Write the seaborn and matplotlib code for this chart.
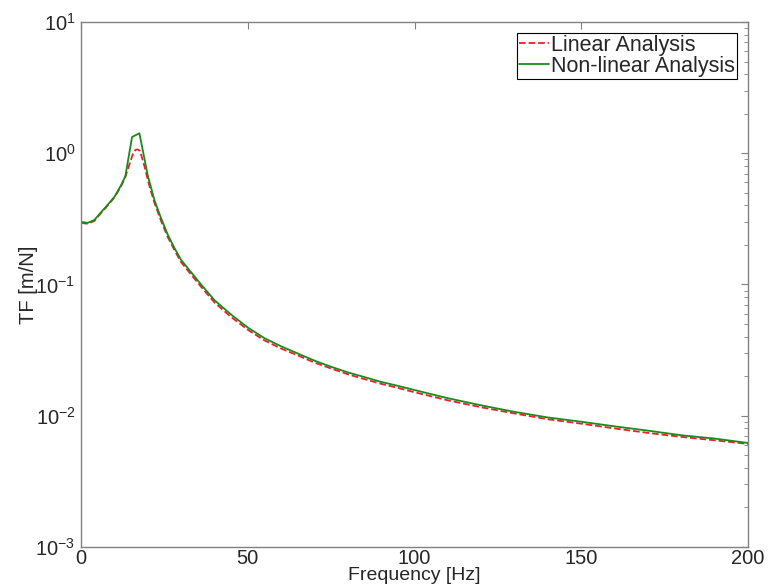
import numpy as np
import pandas as pd
import seaborn as sns
import matplotlib.pyplot as plt

# frequency [Hz] and transfer function values [m/N]
freq_lin = [0, 2, 4, 6, 8, 10, 12, 13.3, 14.5, 15.5, 16.3, 17.0, 17.7, 19.0, 20, 21, 22, 24, 26, 28, 30, 33, 36, 40,
            45, 50, 55, 60, 65, 70, 75, 80, 85, 90, 95, 100, 110, 120, 130, 140, 150, 160, 170, 180, 190, 200]
tf_lin = [0.295, 0.29, 0.305, 0.35, 0.40, 0.46, 0.56, 0.66, 0.82, 0.98, 1.06, 1.07, 1.04, 0.80, 0.63, 0.51, 0.42,
          0.305, 0.23, 0.183, 0.148, 0.119, 0.096, 0.073, 0.0565, 0.0452, 0.0375, 0.0325, 0.0288, 0.0254,
          0.0229, 0.0207, 0.0190, 0.0175, 0.0163, 0.0151, 0.0131, 0.0116, 0.0104, 0.0094, 0.0087, 0.0080,
          0.0074, 0.0069, 0.0065, 0.0061]

freq_nl = [0, 2, 4, 6, 8, 10, 12, 13.3, 15.3, 17.5, 20, 22, 24, 26, 28, 30, 33, 36, 40,
           45, 50, 55, 60, 65, 70, 75, 80, 85, 90, 95, 100, 110, 120, 130, 140, 150, 160, 170, 180, 190, 200]
tf_nl = [0.30, 0.295, 0.31, 0.355, 0.405, 0.465, 0.57, 0.67, 1.33, 1.42, 0.68, 0.44, 0.32, 0.24, 0.19,
         0.154, 0.124, 0.100, 0.076, 0.059, 0.047, 0.039, 0.0338, 0.0298, 0.0263, 0.0236, 0.0214, 0.0197,
         0.0181, 0.0169, 0.0157, 0.0136, 0.0120, 0.0107, 0.0097, 0.0090, 0.0083, 0.0077, 0.0071, 0.0067, 0.0062]

lin = pd.DataFrame({"f": freq_lin, "tf": tf_lin})
nl = pd.DataFrame({"f": freq_nl, "tf": tf_nl})

sns.set_style("white")
plt.rcParams['font.family'] = ['Liberation Sans', 'DejaVu Sans']
plt.rcParams['mathtext.default'] = 'regular'
plt.rcParams['axes.unicode_minus'] = False

fig = plt.figure(figsize=(7.68, 5.84), dpi=100)
ax = fig.add_axes([0.1055, 0.0634, 0.8685, 0.8989])

sns.lineplot(data=lin, x="f", y="tf", ax=ax, color="#e8202a", linestyle="--", linewidth=1.3,
             label="Linear Analysis", sort=False)
sns.lineplot(data=nl, x="f", y="tf", ax=ax, color="#1a8a1a", linestyle="-", linewidth=1.3,
             label="Non-linear Analysis", sort=False)

ax.set_yscale("log")
ax.set_xlim(0, 200)
ax.set_ylim(1e-3, 1e1)
ax.set_xticks([0, 50, 100, 150, 200])
ax.set_xlabel("Frequency [Hz]", fontsize=14, labelpad=-1)
ax.set_ylabel("TF [m/N]", fontsize=14.5, labelpad=-2)

for s in ax.spines.values():
    s.set_color("#808080")
    s.set_linewidth(1.0)
ax.tick_params(which="both", direction="in", top=True, right=True, color="#808080", labelsize=14.5)
ax.tick_params(which="major", length=5)
ax.tick_params(which="minor", length=3)
ax.tick_params(axis="x", which="minor", bottom=False, top=False)
ax.tick_params(axis="x", pad=1.5)
ax.tick_params(axis="y", pad=4)

leg = ax.legend(loc="upper right", fontsize=15.5, frameon=True, fancybox=False, framealpha=1,
                edgecolor="black", handlelength=1.4, handletextpad=0.1, borderpad=0.1,
                labelspacing=0.0, borderaxespad=0.5)
leg.get_frame().set_linewidth(0.8)

plt.savefig("out.png", dpi=100)
